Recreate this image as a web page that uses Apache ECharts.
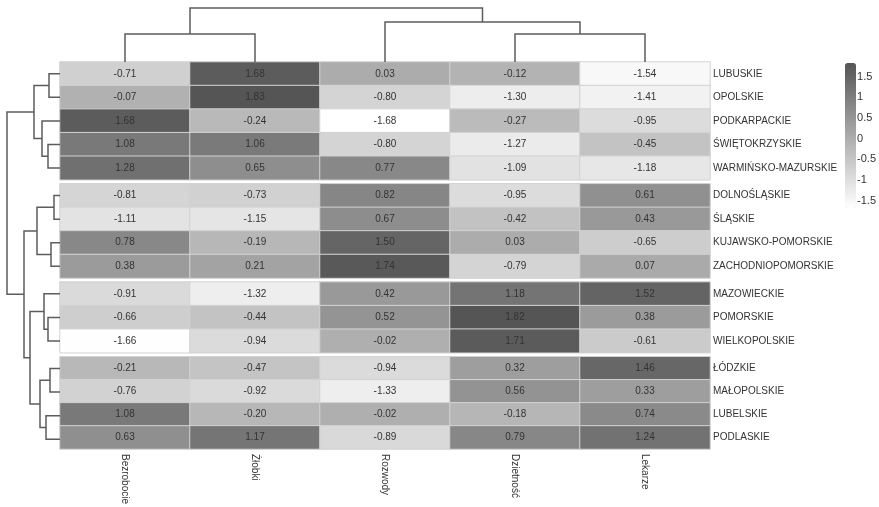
<!DOCTYPE html>
<html>
<head>
<meta charset="utf-8">
<title>Województwa – mapa cieplna</title>
<script src="https://cdn.jsdelivr.net/npm/echarts@6/dist/echarts.min.js"></script>
<style>
  html, body { margin: 0; padding: 0; background: #fff; }
  #chart { width: 879px; height: 507px; }
</style>
</head>
<body>
<div id="chart"></div>
<script>
// Column variables (standardised), in dendrogram order
const COLUMNS = ['Bezrobocie', 'Żłobki', 'Rozwody', 'Dzietność', 'Lekarze'];

// Voivodeships, in dendrogram order
const REGIONS = [
  'LUBUSKIE', 'OPOLSKIE', 'PODKARPACKIE', 'ŚWIĘTOKRZYSKIE', 'WARMIŃSKO-MAZURSKIE',
  'DOLNOŚLĄSKIE', 'ŚLĄSKIE', 'KUJAWSKO-POMORSKIE', 'ZACHODNIOPOMORSKIE',
  'MAZOWIECKIE', 'POMORSKIE', 'WIELKOPOLSKIE',
  'ŁÓDZKIE', 'MAŁOPOLSKIE', 'LUBELSKIE', 'PODLASKIE'
];

// Number of regions in each row cluster (blocks separated by a gap)
const CLUSTER_SIZES = [5, 4, 3, 4];

// Standardised values per variable, one entry per region (REGIONS order)
const bezrobocie = [-0.71, -0.07, 1.68, 1.08, 1.28, -0.81, -1.11, 0.78, 0.38, -0.91, -0.66, -1.66, -0.21, -0.76, 1.08, 0.63];
const zlobki     = [1.68, 1.83, -0.24, 1.06, 0.65, -0.73, -1.15, -0.19, 0.21, -1.32, -0.44, -0.94, -0.47, -0.92, -0.20, 1.17];
const rozwody    = [0.03, -0.80, -1.68, -0.80, 0.77, 0.82, 0.67, 1.50, 1.74, 0.42, 0.52, -0.02, -0.94, -1.33, -0.02, -0.89];
const dzietnosc  = [-0.12, -1.30, -0.27, -1.27, -1.09, -0.95, -0.42, 0.03, -0.79, 1.18, 1.82, 1.71, 0.32, 0.56, -0.18, 0.79];
const lekarze    = [-1.54, -1.41, -0.95, -0.45, -1.18, 0.61, 0.43, -0.65, 0.07, 1.52, 0.38, -0.61, 1.46, 0.33, 0.74, 1.24];

// Hierarchical clustering of regions: [childA, childB, height]; leaves 0..15, merges 16..
const ROW_LINKAGE = [
  [0, 1, 11], [3, 4, 12], [2, 17, 18], [16, 18, 26],
  [5, 6, 6], [7, 8, 9], [20, 21, 23],
  [10, 11, 12], [9, 23, 16],
  [12, 13, 10], [14, 15, 14], [25, 26, 20],
  [24, 27, 30], [22, 28, 36], [19, 29, 53]
];
const ROW_TREE_HEIGHT = 53;

// Hierarchical clustering of variables; leaves 0..4, merges 5..
const COL_LINKAGE = [
  [0, 1, 28], [3, 4, 28], [2, 6, 40], [5, 7, 54]
];
const COL_TREE_HEIGHT = 54;

// Colour scale tick labels
const SCALE_TICKS = [1.5, 1, 0.5, 0, -0.5, -1, -1.5];

// ---- layout ----
const FONT = '"Liberation Sans", Arial, sans-serif';
const HM_LEFT = 60, HM_W = 650, HM_TOP = 62, HM_H = 389;
const GAP = 0.17;                      // gap between row blocks, in row units
const nRows = REGIONS.length;
const rowSpan = nRows + GAP * (CLUSTER_SIZES.length - 1);
const unit = HM_H / rowSpan;

const byColumn = [bezrobocie, zlobki, rozwody, dzietnosc, lekarze];
const allValues = [].concat(...byColumn);
const vMin = Math.min(...allValues), vMax = Math.max(...allValues);

const grids = [], xAxes = [], yAxes = [], series = [];
const clusterOf = [];
let start = 0;
CLUSTER_SIZES.forEach((n, c) => {
  const isLast = c === CLUSTER_SIZES.length - 1;
  grids.push({ left: HM_LEFT, width: HM_W, top: HM_TOP + (start + c * GAP) * unit, height: n * unit });
  xAxes.push({
    type: 'category', gridIndex: c, data: COLUMNS,
    axisLine: { show: false }, axisTick: { show: false }, splitLine: { show: false },
    axisLabel: { show: isLast, rotate: -90, margin: 5, fontSize: 10, color: '#333', fontFamily: FONT }
  });
  yAxes.push({
    type: 'category', gridIndex: c, data: REGIONS.slice(start, start + n), inverse: true, position: 'right',
    axisLine: { show: false }, axisTick: { show: false }, splitLine: { show: false },
    axisLabel: { margin: 3, fontSize: 10, color: '#333', fontFamily: FONT }
  });
  const data = [];
  for (let r = 0; r < n; r++) {
    clusterOf.push(c);
    for (let k = 0; k < COLUMNS.length; k++) data.push([k, r, byColumn[k][start + r]]);
  }
  series.push({
    type: 'heatmap', xAxisIndex: c, yAxisIndex: c, data,
    label: { show: true, formatter: p => p.value[2].toFixed(2), fontSize: 10, color: '#333', fontFamily: FONT },
    itemStyle: { borderColor: '#d2d2d2', borderWidth: 1 },
    emphasis: { disabled: true }
  });
  start += n;
});

// Dendrogram segments: [posA, heightA, posB, heightB, mergeHeight]
function dendroSegments(linkage, leafPos) {
  const pos = leafPos.slice(), hgt = leafPos.map(() => 0);
  return linkage.map(([a, b, h]) => {
    const seg = [pos[a], hgt[a], pos[b], hgt[b], h];
    pos.push((pos[a] + pos[b]) / 2);
    hgt.push(h);
    return seg;
  });
}
const rowLeafPos = REGIONS.map((_, i) => i + 0.5 + clusterOf[i] * GAP);
const colLeafPos = COLUMNS.map((_, i) => i + 0.5);
const rowSegs = dendroSegments(ROW_LINKAGE, rowLeafPos);
const colSegs = dendroSegments(COL_LINKAGE, colLeafPos);

const lineStyle = { stroke: '#5c5c5c', lineWidth: 1.5, fill: 'none' };
const hiddenValueAxis = (gridIndex, extra) => Object.assign({
  type: 'value', gridIndex, show: false, splitLine: { show: false }
}, extra);

// Row dendrogram (left)
const gRow = grids.length;
grids.push({ left: HM_LEFT - ROW_TREE_HEIGHT, width: ROW_TREE_HEIGHT, top: HM_TOP, height: HM_H });
xAxes.push(hiddenValueAxis(gRow, { min: 0, max: ROW_TREE_HEIGHT, inverse: true }));
yAxes.push(hiddenValueAxis(gRow, { min: 0, max: rowSpan, inverse: true }));
series.push({
  type: 'custom', xAxisIndex: gRow, yAxisIndex: gRow, data: rowSegs, silent: true,
  encode: { x: 4, y: 0 },
  renderItem: (params, api) => {
    const pA = api.value(0), hA = api.value(1), pB = api.value(2), hB = api.value(3), h = api.value(4);
    return { type: 'polyline', shape: { points: [api.coord([hA, pA]), api.coord([h, pA]), api.coord([h, pB]), api.coord([hB, pB])] }, style: lineStyle };
  }
});

// Column dendrogram (top)
const gCol = grids.length;
grids.push({ left: HM_LEFT, width: HM_W, top: HM_TOP - COL_TREE_HEIGHT, height: COL_TREE_HEIGHT });
xAxes.push(hiddenValueAxis(gCol, { min: 0, max: COLUMNS.length }));
yAxes.push(hiddenValueAxis(gCol, { min: 0, max: COL_TREE_HEIGHT }));
series.push({
  type: 'custom', xAxisIndex: gCol, yAxisIndex: gCol, data: colSegs, silent: true,
  encode: { x: 0, y: 4 },
  renderItem: (params, api) => {
    const pA = api.value(0), hA = api.value(1), pB = api.value(2), hB = api.value(3), h = api.value(4);
    return { type: 'polyline', shape: { points: [api.coord([pA, hA]), api.coord([pA, h]), api.coord([pB, h]), api.coord([pB, hB])] }, style: lineStyle };
  }
});

// Colour scale labels
const BAR = { left: 845, top: 63, width: 11, height: 145 };
const gBar = grids.length;
grids.push({ left: BAR.left, width: BAR.width, top: BAR.top, height: BAR.height });
xAxes.push(hiddenValueAxis(gBar, { min: 0, max: 1 }));
yAxes.push({
  type: 'value', gridIndex: gBar, min: vMin, max: vMax, position: 'right',
  axisLine: { show: false }, axisTick: { show: false }, splitLine: { show: false },
  axisLabel: { customValues: SCALE_TICKS, margin: 6, fontSize: 11, color: '#333', fontFamily: FONT }
});

const chart = echarts.init(document.getElementById('chart'), null, { renderer: 'canvas' });
chart.setOption({
  animation: false,
  backgroundColor: '#fff',
  textStyle: { fontFamily: FONT },
  grid: grids,
  xAxis: xAxes,
  yAxis: yAxes,
  visualMap: {
    type: 'continuous', min: vMin, max: vMax, dimension: 2,
    seriesIndex: CLUSTER_SIZES.map((_, i) => i),
    left: BAR.left, top: BAR.top, itemWidth: BAR.width, itemHeight: BAR.height,
    padding: 0, calculable: false, showLabel: false, text: null, hoverLink: false,
    inRange: { color: ['#ffffff', '#555555'] }
  },
  series
});
</script>
</body>
</html>
